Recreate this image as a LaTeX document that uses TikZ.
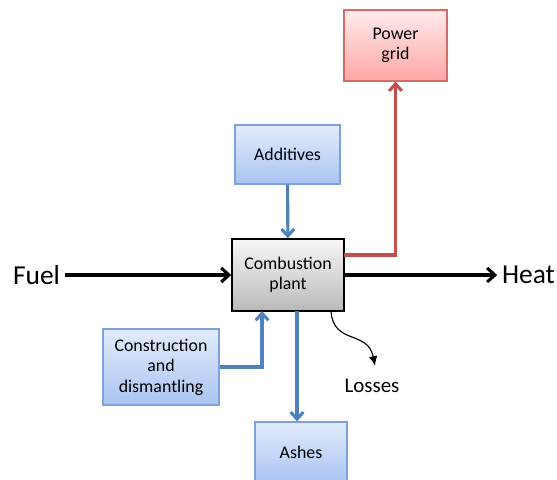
\documentclass[tikz,border=0pt]{standalone}
\usepackage{fontspec}
\setmainfont{Carlito}
\usepackage{xcolor}
\usetikzlibrary{arrows.meta, positioning, calc}

\definecolor{flowblue}{HTML}{4F81BD}
\definecolor{boxblue}{HTML}{7DA1DC}
\definecolor{filltop}{HTML}{E2EBFC}
\definecolor{fillbot}{HTML}{A9C4F2}
\definecolor{flowred}{HTML}{C0504D}
\definecolor{boxred}{HTML}{D36B6B}

\tikzset{
  inbox/.style    = {draw=boxblue, line width=0.8pt, top color=filltop, bottom color=fillbot,
                     align=center, font=\fontsize{12.7}{14.6}\selectfont},
  gridbox/.style  = {draw=boxred, line width=0.8pt, top color=red!8, bottom color=red!35,
                     align=center, font=\fontsize{12.7}{14.6}\selectfont},
  plantbox/.style = {draw=black, line width=1pt, top color=gray!6, bottom color=gray!55,
                     align=center, font=\fontsize{12.7}{14.2}\selectfont},
  bigtext/.style  = {font=\fontsize{19.5}{23}\selectfont},
  blueflow/.style = {draw=flowblue, line width=2.2pt, -{Straight Barb[length=5pt, width=9pt]}},
  redflow/.style  = {draw=flowred, line width=2.2pt, -{Straight Barb[length=5pt, width=9pt]}},
  mainflow/.style = {draw=black, line width=2.2pt, -{Straight Barb[length=5.5pt, width=10pt]}}
}

\begin{document}
\begin{tikzpicture}[x=0.025cm, y=-0.025cm]
  \useasboundingbox (0,0) rectangle (557,479);

  % Plant and the boxes round it
  \node [plantbox, minimum width=2.8cm,   minimum height=1.8cm]   (plant)     at (288,275)   {Combustion\\plant};
  \node [inbox,    minimum width=2.625cm, minimum height=1.475cm] (additives) at (287.5,154.5) {Additives};
  \node [gridbox,  minimum width=2.575cm, minimum height=1.775cm] (grid)      at (395.5,45.5) {Power\\grid};
  \node [inbox,    minimum width=2.9cm,   minimum height=1.9cm]   (build)     at (161,367)   {Construction\\and\\dismantling};
  \node [inbox,    minimum width=2.3cm,   minimum height=1.5cm]   (ashes)     at (301,452)   {Ashes};

  % Free text
  \node [bigtext] (fuel)   at (36.5,275)  {Fuel};
  \node [bigtext] (heat)   at (528.5,275) {Heat};
  \node [font=\fontsize{14.9}{17}\selectfont] (losses) at (372,386) {Losses};

  \coordinate (gridout)  at (344,255);
  \coordinate (buildin)  at (262,311);
  \coordinate (ashout)   at (297,311);
  \coordinate (lossout)  at (331,311);
  \coordinate (lossend)  at (375,366);

  % Main flow
  \draw [mainflow] (fuel) -- (plant);
  \draw [mainflow] (plant) -- (heat);

  % Side flows
  \draw [redflow]  (gridout) -| (grid);
  \draw [blueflow] (additives) -- (plant);
  \draw [blueflow] (build) -| (buildin);
  \draw [blueflow] (ashout) -- (ashout |- ashes.north);

  % Losses
  \draw [line width=0.8pt, -{Latex[length=7pt, width=6pt]}]
    (lossout) .. controls (333,345) and (368,330) .. (lossend);
\end{tikzpicture}
\end{document}
